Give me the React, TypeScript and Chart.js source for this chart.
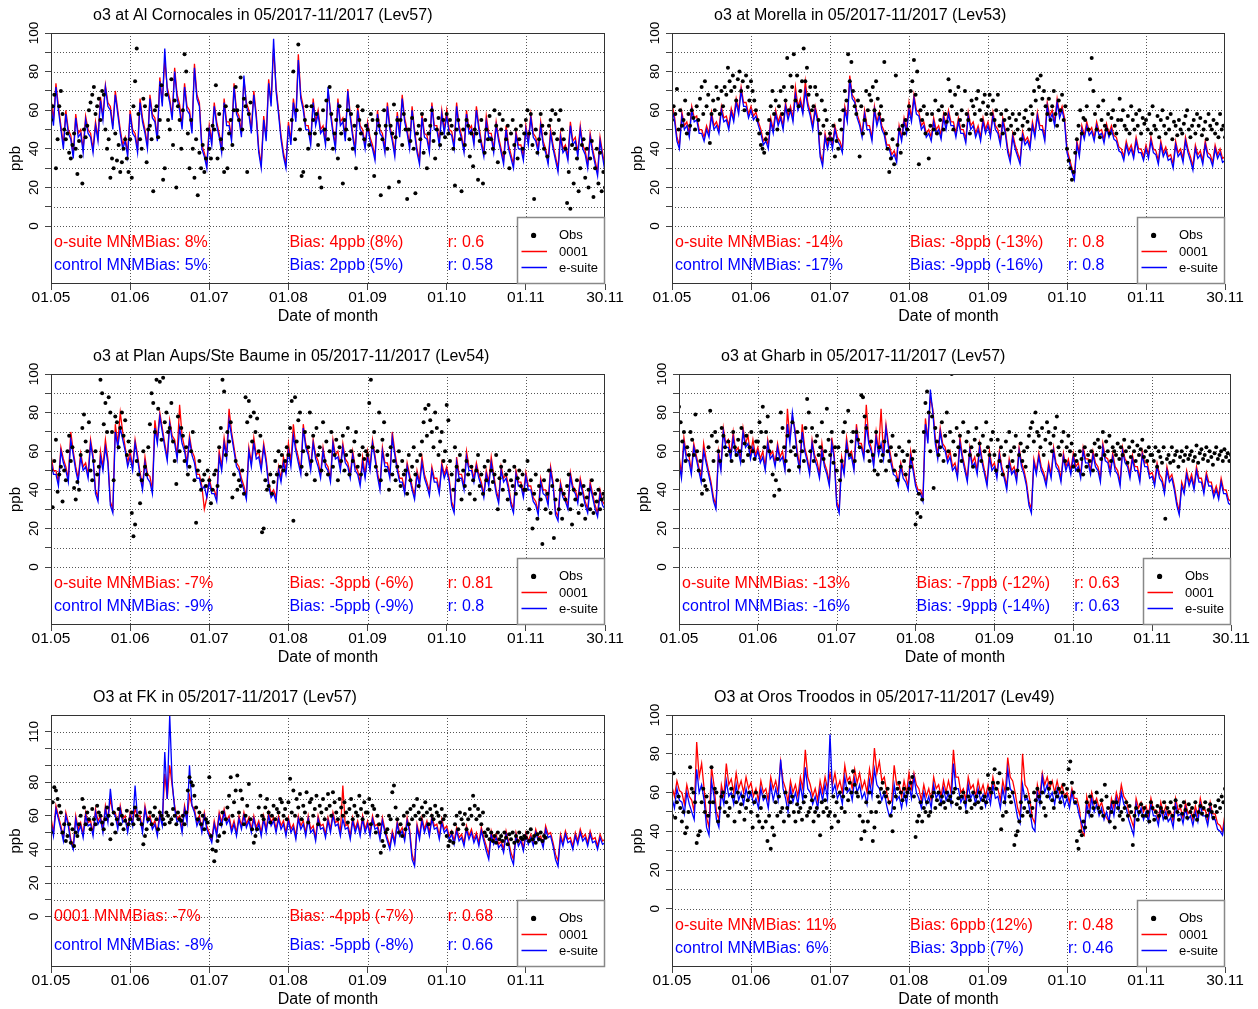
import React, { useEffect, useRef } from "react";
import { Chart, registerables } from "chart.js";
Chart.register(...registerables);

const FONT = "'Liberation Sans', Arial, Helvetica, sans-serif";
Chart.defaults.font.family = FONT;

const monthLabels = ["01.05", "01.06", "01.07", "01.08", "01.09", "01.10", "01.11", "30.11"];
const LINE_PER_MONTH = 32;
const OBS_PER_MONTH = 48;

// ---------- Al Cornocales ----------
const cornocalesOsuite = [
  66,55,74,62,52,42,60,50,47,37,58,48,50,40,57,50,48,40,54,46,67,57,73,64,62,52,70,60,50,42,46,38,
  60,50,48,40,66,56,50,42,68,58,56,46,77,64,86,72,66,57,82,68,63,52,74,62,60,50,84,68,64,42,38,32,
  52,44,64,54,48,40,66,54,54,46,74,60,57,48,76,64,60,50,70,58,40,32,57,46,76,64,92,72,60,47,38,32,
  54,44,66,56,89,68,62,52,52,44,66,54,60,50,52,44,70,60,50,42,66,54,56,46,71,58,48,40,62,52,50,42,
  54,46,42,36,60,50,48,40,64,52,46,38,59,48,68,56,50,42,62,50,40,34,58,48,47,40,64,52,52,44,60,50,
  60,50,49,42,64,52,47,40,60,50,52,44,62,52,44,38,57,48,48,40,54,46,40,34,52,42,37,32,49,42,42,36,
  52,44,58,48,46,40,54,44,40,34,50,42,36,30,48,40,42,36,54,44,46,38,52,42,39,32,48,40,34,28,46,38,30];
const cornocalesEsuite = [
  62,52,72,60,50,40,58,48,45,35,56,46,48,38,55,48,46,38,52,44,65,55,72,62,60,50,68,58,48,40,44,36,
  58,48,46,38,64,54,48,40,66,56,54,44,75,62,92,70,64,55,80,66,60,50,72,60,58,48,82,66,62,40,36,30,
  50,42,62,52,46,38,64,52,52,44,72,58,55,46,78,62,58,48,68,56,38,30,55,44,74,62,97,70,58,45,36,30,
  52,42,64,54,86,66,60,50,50,42,64,52,58,48,50,42,72,58,48,40,64,52,54,44,70,56,46,38,60,50,48,40,
  52,44,40,34,58,48,46,38,62,50,44,36,57,46,66,54,48,40,60,48,38,32,56,46,45,38,62,50,50,42,58,48,
  57,48,47,40,62,50,45,38,58,48,50,42,60,50,42,36,54,46,46,38,52,44,38,32,50,40,35,30,47,40,40,34,
  50,42,56,46,44,38,52,42,38,32,48,40,34,28,46,38,40,34,52,42,44,36,50,40,37,30,46,38,32,26,44,36,28];
const cornocalesObs = [
  55,62,68,30,45,62,70,58,50,45,48,38,35,42,48,40,27,44,36,22,50,46,52,60,64,68,72,58,62,66,55,70,68,50,40,45,25,35,30,48,34,42,28,33,40,45,35,28,
  45,25,62,75,92,58,45,40,66,62,33,50,52,45,18,60,62,46,55,73,24,30,68,55,50,76,42,65,20,62,55,40,60,89,80,48,30,55,40,25,45,16,38,30,42,28,35,50,
  40,35,52,50,73,35,58,45,40,28,62,30,48,55,42,60,72,60,55,77,50,66,62,28,58,64,null,null,null,null,null,null,null,null,null,null,null,null,null,null,null,null,null,null,null,null,null,null,
  null,null,55,80,45,60,94,50,26,28,55,62,40,48,62,55,48,58,42,25,20,60,50,65,45,72,58,40,48,55,35,62,48,22,55,50,60,45,58,40,52,30,62,55,48,60,45,52,
  50,42,58,55,26,48,55,52,16,45,60,52,40,20,52,48,63,46,55,23,55,42,58,50,14,50,44,56,40,17,48,52,45,58,38,55,30,48,52,60,44,35,50,56,42,48,55,46,
  58,48,55,52,40,21,50,55,45,18,50,42,55,52,36,48,31,50,48,24,44,55,22,38,50,45,57,45,40,60,52,33,58,50,55,38,45,52,30,48,55,42,50,35,45,52,40,48,
  55,60,48,58,42,14,50,38,45,58,52,40,48,36,52,55,60,48,58,45,55,60,50,45,40,12,28,9,42,22,40,35,18,30,42,45,25,40,20,35,44,15,30,40,22,38,18,28,20];

// ---------- Morella ----------
const morellaOsuite = [
  63,57,46,42,59,52,54,48,62,56,57,50,50,46,52,48,59,52,54,50,62,56,57,52,61,56,66,60,72,64,64,58,
  62,57,59,54,50,44,46,42,56,50,60,54,58,52,64,57,62,56,72,62,66,60,75,64,59,52,62,56,38,33,48,42,
  48,42,52,46,44,40,62,56,78,68,66,58,54,48,60,52,52,46,62,54,59,52,49,42,42,37,39,35,52,46,56,50,
  64,56,68,60,59,52,54,48,50,46,56,50,52,47,58,52,60,54,54,48,56,50,50,45,59,52,54,48,52,46,56,50,
  54,48,59,52,50,44,56,50,40,35,48,42,38,34,49,44,46,42,54,48,59,52,52,46,64,57,60,54,66,58,62,56,
  40,35,30,26,44,38,52,47,54,49,51,46,54,49,50,45,53,48,52,47,46,41,40,36,44,39,42,37,46,40,40,36,
  42,37,46,40,39,34,44,38,41,36,37,32,44,38,40,35,46,40,36,31,42,37,39,34,44,38,37,33,42,37,40,35,36];
const morellaEsuite = [
  60,55,44,40,57,50,52,46,60,54,55,48,48,44,50,46,57,50,52,48,60,54,55,50,59,54,64,58,70,62,62,56,
  60,55,57,52,48,42,44,40,54,48,58,52,56,50,62,55,60,54,68,60,64,58,70,62,57,50,60,54,36,31,46,40,
  46,40,50,44,42,38,60,54,76,66,64,56,52,46,58,50,50,44,60,52,57,50,47,40,40,35,37,33,50,44,54,48,
  60,54,66,58,57,50,52,46,48,44,54,48,50,45,56,50,58,52,52,46,54,48,48,43,57,50,52,46,50,44,54,48,
  52,46,57,50,48,42,54,48,38,33,46,40,36,32,47,42,44,40,52,46,57,50,50,44,62,55,58,52,64,56,60,54,
  38,33,28,24,42,36,50,45,52,47,49,44,52,47,48,43,51,46,50,45,44,39,38,34,42,37,40,35,44,38,38,34,
  40,35,44,38,37,32,42,36,39,34,35,30,42,36,38,33,44,38,34,29,40,35,37,32,42,36,35,31,40,35,38,33,34];
const morellaObs = [
  55,62,58,71,50,60,52,55,65,48,58,52,60,56,50,62,55,66,72,58,75,62,68,43,58,65,60,72,66,58,70,62,72,68,82,75,70,78,72,65,76,80,70,75,60,78,72,65,
  75,70,65,60,55,48,42,40,38,45,48,55,62,70,58,65,50,62,70,58,72,65,87,60,78,72,89,65,78,62,70,75,92,75,82,68,72,60,62,72,68,55,48,65,52,60,55,45,
  48,45,52,36,44,40,55,50,60,70,65,89,75,85,70,62,58,65,36,62,48,55,70,60,68,65,72,60,75,66,58,62,55,85,48,40,28,35,45,32,78,42,50,38,52,48,55,50,
  62,70,75,86,68,80,32,60,55,62,48,58,35,52,58,50,65,48,60,55,62,50,58,54,76,70,62,50,68,58,72,55,60,52,70,58,55,48,65,62,58,66,70,60,55,64,68,58,
  62,68,58,65,55,60,68,52,58,48,55,60,50,56,52,58,48,55,50,58,45,52,56,60,54,50,62,58,70,65,76,72,78,66,70,62,58,66,55,62,70,58,52,65,60,68,55,62,
  40,34,30,24,28,38,45,52,60,48,56,55,62,50,76,87,70,58,50,62,46,55,65,52,50,58,48,56,60,52,48,55,66,55,60,52,50,57,48,62,55,50,58,52,60,48,56,53,
  55,50,58,48,62,52,50,57,46,55,60,52,48,56,50,58,45,54,52,47,55,50,48,53,57,60,50,46,52,55,48,58,52,56,47,50,54,45,58,52,50,55,48,53,46,58,50,52,46];

// ---------- Plan Aups / Ste Baume ----------
const planAupsOsuite = [
  58,50,50,44,62,56,52,46,70,60,52,46,59,52,54,48,66,58,40,36,60,52,66,56,34,30,74,64,80,70,62,54,
  60,52,66,58,49,42,57,48,47,40,76,66,80,72,64,57,76,68,66,58,84,68,62,54,68,60,57,48,48,42,30,36,
  46,40,40,36,60,52,67,58,82,70,62,54,52,46,42,37,62,54,67,58,60,52,64,56,44,38,40,36,52,46,57,50,
  64,54,74,62,57,50,74,64,60,52,66,58,55,48,62,54,52,46,66,58,60,52,64,56,54,48,60,52,50,44,57,48,
  60,52,66,58,49,42,62,54,54,48,70,60,52,46,46,40,54,48,42,37,50,44,57,48,44,39,52,46,46,40,54,48,
  52,46,34,30,57,48,48,42,60,52,52,46,54,48,44,38,50,44,57,48,40,35,52,46,48,42,34,30,50,44,44,38,
  49,42,42,36,34,29,46,40,40,34,52,44,29,26,44,38,36,32,49,42,40,35,46,40,34,30,44,38,32,28,40,34,32];
const planAupsEsuite = [
  55,48,48,42,60,54,50,44,66,58,50,44,57,50,52,46,64,56,38,34,57,50,62,54,32,28,70,62,72,66,60,52,
  57,50,64,56,47,40,54,46,44,38,72,64,78,70,62,55,74,66,64,56,72,64,60,52,66,58,54,46,46,40,42,36,
  44,38,38,34,57,50,64,56,76,68,60,52,50,44,40,35,60,52,64,56,57,50,62,54,42,36,38,34,50,44,54,48,
  60,52,68,60,54,48,72,62,58,50,64,56,52,46,60,52,50,44,64,56,57,50,62,54,52,46,58,50,48,42,54,46,
  57,50,64,56,47,40,60,52,52,46,67,58,50,44,44,38,52,46,40,35,48,42,54,46,42,37,50,44,44,38,52,46,
  50,44,32,28,54,46,46,40,57,50,50,44,52,46,42,36,48,42,54,46,38,33,50,44,46,40,32,28,48,42,42,36,
  47,40,40,34,32,27,44,38,37,32,50,42,27,24,42,36,34,30,47,40,38,33,44,38,32,28,42,36,30,26,38,32,30];
const planAupsObs = [
  50,31,55,66,39,48,52,34,50,45,60,68,55,62,41,35,44,40,58,72,79,65,60,75,50,45,55,60,48,52,97,90,74,85,70,88,80,70,45,78,75,62,72,80,68,76,58,65,
  60,28,16,22,55,48,33,45,60,52,48,62,74,90,85,70,97,82,96,66,98,75,80,70,72,85,65,55,43,78,60,72,68,55,62,48,52,60,70,45,23,50,55,40,45,48,42,50,
  45,33,40,48,50,42,62,72,97,91,58,70,65,75,36,48,55,40,45,42,50,38,88,75,86,78,65,80,70,77,60,68,18,20,45,40,42,48,38,44,55,48,60,52,58,50,55,62,
  58,72,86,24,88,65,76,80,52,60,70,48,62,80,55,68,45,72,58,62,50,75,55,65,48,60,70,52,58,66,45,62,55,68,50,58,72,48,60,55,65,70,52,58,48,62,56,60,
  58,85,97,62,70,52,60,80,45,66,75,50,58,40,62,48,55,45,52,60,42,55,48,50,38,58,45,52,62,48,55,42,58,65,75,82,68,84,76,70,62,80,72,58,65,70,55,60,
  84,76,55,48,40,62,52,45,58,35,50,42,55,48,38,52,45,35,50,58,42,48,38,52,45,55,40,50,44,48,58,30,46,52,40,55,48,35,50,45,42,52,38,46,50,42,48,40,
  40,55,30,45,20,38,48,25,42,35,12,45,30,38,50,28,42,15,35,45,30,40,25,38,35,42,48,30,22,40,35,45,28,38,32,42,25,36,40,30,45,28,38,34,40,30,35,38,36];

// ---------- Gharb ----------
const gharbOsuite = [
  58,48,67,58,58,50,64,58,52,46,64,56,50,44,36,32,60,52,72,64,66,58,70,60,62,56,72,64,68,58,66,58,
  62,56,60,52,66,58,60,54,64,57,60,52,82,66,78,72,60,52,74,62,57,50,66,58,55,48,64,54,50,44,67,58,
  34,30,57,50,67,58,60,52,74,64,64,58,84,66,62,54,70,60,82,58,74,64,57,50,50,44,54,48,47,42,60,52,
  44,40,40,36,77,66,88,82,67,58,72,64,62,56,60,52,54,48,67,58,52,46,62,54,57,50,64,56,50,44,60,52,
  54,48,60,52,48,42,56,50,52,46,62,54,50,44,34,30,56,50,59,52,49,44,54,48,62,54,52,46,59,52,56,50,
  59,52,54,48,62,56,56,50,60,54,52,46,64,57,56,50,59,52,50,44,62,56,54,48,58,52,52,46,60,54,54,48,
  49,44,54,48,46,40,52,46,48,42,34,29,44,40,50,44,48,42,52,46,46,40,49,44,44,38,42,37,46,40,40,35,34];
const gharbEsuite = [
  54,46,64,56,55,48,62,56,50,44,60,54,48,42,34,30,58,50,70,62,62,56,67,58,60,54,70,62,64,56,62,56,
  60,54,57,50,64,56,58,52,62,55,57,50,74,64,80,70,57,50,70,60,55,48,64,56,52,46,60,52,48,42,64,56,
  32,28,54,48,64,56,57,50,70,62,62,56,74,64,60,52,67,58,64,56,72,62,54,48,47,42,52,46,44,40,57,50,
  42,38,38,34,74,64,92,80,64,56,70,62,60,54,57,50,52,46,64,56,50,44,60,52,54,48,62,54,48,42,57,50,
  52,46,58,50,46,40,54,48,50,44,60,52,48,42,32,28,54,48,57,50,47,42,52,46,60,52,50,44,57,50,54,48,
  57,50,52,46,60,54,54,48,58,52,50,44,62,55,54,48,57,50,48,42,60,54,52,46,56,50,50,44,58,52,52,46,
  47,42,52,46,44,38,50,44,46,40,32,27,42,38,48,42,46,40,50,44,44,38,47,42,42,36,40,35,44,38,38,33,32];
const gharbObs = [
  83,75,65,70,55,62,58,70,66,58,79,60,50,55,38,45,42,40,62,81,68,55,70,65,60,55,72,68,62,58,65,60,55,70,62,58,66,60,72,55,64,68,58,62,70,60,56,65,
  65,75,70,83,62,70,78,60,65,48,37,45,56,40,80,72,62,55,68,50,60,75,62,58,70,52,65,60,55,72,87,80,60,72,55,65,68,58,62,75,56,60,82,66,58,70,54,62,
  50,62,45,55,70,75,60,81,58,65,70,55,70,66,62,89,88,78,72,60,55,65,58,50,70,48,62,55,58,65,50,60,55,62,68,50,58,45,62,52,60,55,48,58,65,52,56,60,
  22,28,38,26,35,70,85,91,80,60,78,41,72,65,58,62,75,55,68,80,60,70,100,65,58,72,62,68,55,75,60,65,70,58,62,52,66,72,58,64,55,68,60,75,62,58,66,70,
  58,50,66,55,62,48,58,65,52,70,60,55,62,68,50,58,64,55,60,52,62,68,72,75,65,80,70,68,62,72,58,66,75,70,64,60,68,72,78,62,58,65,70,55,62,68,60,64,
  52,58,55,50,60,56,48,62,52,58,55,60,50,64,58,66,62,56,70,58,65,60,68,55,62,60,58,64,56,62,58,66,60,54,62,57,65,60,55,63,58,61,66,57,60,55,62,58,
  58,55,62,52,60,57,54,62,25,56,58,54,62,55,58,60,52,57,60,55,58,62,56,58,60,55,57,63,54,59,61,56,58,62,55,60,57,53,59,62,56,58,60,55,61,57,59,55,58];

// ---------- FK ----------
const fk0001 = [
  59,50,66,60,54,47,62,56,46,42,60,52,56,49,62,56,57,50,64,57,60,52,66,58,70,62,62,54,66,58,60,52,
  62,56,64,60,60,52,66,58,60,54,57,50,62,56,85,70,90,78,66,58,60,52,66,58,72,66,64,56,60,52,62,54,
  50,46,57,50,62,56,64,57,60,52,57,50,60,54,62,55,59,52,60,53,57,50,60,52,62,56,59,52,60,54,57,50,
  59,52,55,48,60,54,57,50,60,52,54,47,60,54,55,49,59,52,62,56,57,50,78,54,55,48,59,52,57,50,60,52,
  57,50,60,54,55,48,59,52,47,42,51,45,57,50,53,47,59,52,37,32,55,48,59,52,57,50,60,54,55,48,58,52,
  54,48,51,45,53,47,49,44,54,48,52,46,50,44,53,47,42,37,51,45,49,43,45,40,51,45,38,34,50,44,47,41,
  50,45,49,44,52,47,48,43,54,49,50,44,37,33,49,44,51,46,47,42,50,45,52,47,49,44,51,46,47,42,49,45,46];
const fkEsuite = [
  56,48,64,58,52,45,60,54,44,40,58,50,54,47,60,54,55,48,62,55,58,50,64,56,76,62,60,52,64,56,58,50,
  60,54,78,58,58,50,64,56,58,52,55,48,60,54,98,70,120,80,64,56,58,50,64,56,90,66,62,54,58,50,60,52,
  48,44,55,48,60,54,62,55,58,50,55,48,58,52,60,53,57,50,58,51,55,48,58,50,60,54,57,50,58,52,55,48,
  57,50,53,46,58,52,55,48,58,50,52,45,58,52,53,47,57,50,60,54,55,48,58,52,53,46,57,50,55,48,58,50,
  55,48,58,52,53,46,57,50,45,40,49,43,55,48,51,45,57,50,34,30,53,46,57,50,55,48,58,52,53,46,56,50,
  52,46,49,43,51,45,47,42,52,46,50,44,48,42,51,45,39,34,49,43,47,41,43,38,49,43,35,31,48,42,45,39,
  48,43,47,42,50,45,46,41,52,47,48,42,34,30,47,42,49,44,45,40,48,43,50,45,47,42,49,44,45,40,47,43,44];
const fkObs = [
  50,68,77,75,70,66,62,50,55,45,48,55,44,52,42,50,48,55,60,70,65,55,62,58,52,64,58,55,66,62,60,56,52,58,65,60,46,55,62,50,58,64,55,60,52,57,63,55,
  58,62,55,65,60,58,62,55,43,48,52,58,62,55,60,65,58,52,62,60,58,55,62,60,56,58,64,60,55,62,58,57,60,55,62,75,83,80,78,72,65,58,62,55,60,52,58,56,
  83,48,40,33,39,45,48,55,62,50,58,65,72,83,60,68,75,84,62,75,70,55,60,66,79,58,52,44,48,52,65,72,60,58,65,70,62,56,60,66,58,64,62,70,68,60,64,58,
  68,82,62,75,60,70,65,73,58,66,62,74,56,68,70,60,64,72,55,66,62,70,58,64,73,66,60,74,68,62,58,70,65,60,68,62,56,64,70,58,66,62,60,72,64,58,68,62,
  62,70,55,66,64,50,60,55,38,45,42,50,52,60,58,74,78,65,58,50,55,48,60,52,62,55,64,58,66,60,70,62,58,65,60,68,62,55,64,60,58,66,62,60,56,64,58,60,
  48,42,45,50,44,55,60,52,62,58,55,61,52,58,64,60,72,66,58,64,60,55,62,50,48,52,46,50,45,48,44,50,46,48,45,50,47,43,49,46,50,44,48,45,50,47,46,48,
  47,50,45,52,46,48,44,49,46,50,45,48,47,null,null,null,null,null,null,null,null,null,null,null,null,null,null,null,null,null,null,null,null,null,null,null,null,null,null,null,null,null,null,null,null,null,null,null,null];

// ---------- Oros Troodos ----------
const orosOsuite = [
  63,58,66,61,60,54,64,58,56,50,86,68,75,62,47,42,73,64,50,46,64,58,75,64,67,60,70,62,66,60,68,62,
  65,58,62,56,66,60,62,56,68,62,66,60,76,66,62,55,66,60,64,58,68,62,82,68,64,58,62,56,66,60,68,62,
  70,64,70,62,66,60,74,66,68,62,72,65,70,62,66,60,72,64,83,70,76,66,68,60,54,56,74,64,64,58,66,60,
  70,62,70,64,62,56,64,58,62,56,68,62,64,58,66,60,66,60,82,68,68,60,62,56,68,62,64,58,66,60,64,58,
  64,58,68,62,62,56,66,60,78,68,66,60,52,48,80,64,62,56,47,44,64,58,70,64,68,62,66,60,66,60,64,58,
  60,55,62,57,57,52,40,38,58,52,60,54,57,52,55,50,47,45,57,52,60,55,64,58,56,50,46,42,57,52,55,50,
  53,48,57,51,51,46,55,49,53,48,50,45,57,51,52,47,55,49,51,46,53,48,57,51,51,46,55,49,49,44,43,40,49];
const orosEsuite = [
  57,52,62,56,55,49,60,54,50,46,72,60,64,56,42,38,66,58,46,42,60,54,66,58,60,54,64,56,60,54,62,56,
  60,54,57,52,62,56,58,52,64,56,62,56,77,62,57,50,62,55,60,54,64,56,73,62,60,54,58,52,62,56,64,57,
  90,60,64,57,60,54,68,60,62,56,67,60,64,57,60,54,66,58,72,64,62,56,60,53,48,50,64,56,58,52,60,54,
  64,57,68,60,57,52,60,54,58,52,64,57,60,54,62,56,60,54,75,62,62,55,58,52,64,57,60,54,62,56,59,53,
  60,54,64,57,58,52,62,55,72,62,60,54,47,44,64,56,57,50,42,40,60,54,68,60,64,57,60,54,62,56,59,53,
  57,52,60,54,54,48,44,40,54,48,57,50,54,48,52,46,50,45,54,48,57,51,60,54,52,46,42,38,54,48,52,46,
  50,45,54,48,48,43,52,46,50,45,47,42,54,48,49,44,52,46,48,43,50,45,54,48,48,43,52,46,46,41,40,38,46];
const orosObs = [
  48,70,47,55,58,52,45,50,39,42,50,73,62,60,55,34,38,40,55,62,50,58,48,55,73,55,62,60,45,52,58,60,50,55,48,52,62,58,45,55,60,50,54,58,46,52,56,60,
  50,42,55,60,48,45,52,42,58,45,35,48,31,42,38,55,48,58,50,52,45,60,52,48,55,58,50,45,54,50,52,46,55,58,48,50,52,56,45,50,52,48,38,55,50,56,52,48,
  50,42,58,48,55,45,60,52,58,50,62,56,65,60,71,64,60,58,48,36,45,40,55,45,60,50,35,42,50,58,55,62,65,60,58,62,55,48,40,52,58,62,65,60,56,62,58,60,
  62,65,68,58,37,45,48,55,45,52,50,55,48,50,58,60,52,56,60,54,58,55,52,60,56,58,55,60,62,54,57,52,58,60,55,50,58,56,52,60,54,58,55,60,52,56,58,55,
  69,62,60,65,72,62,65,70,41,48,55,50,62,58,55,60,33,38,40,45,55,48,52,58,50,55,48,52,60,56,62,58,55,60,52,48,58,62,65,56,52,60,58,62,55,60,64,58,
  62,72,76,65,60,55,35,31,40,38,45,42,55,50,58,48,52,55,60,52,50,56,48,64,58,52,45,50,55,42,55,52,48,50,46,52,55,48,53,50,33,48,52,46,50,54,48,52,
  48,50,45,55,52,46,50,53,48,52,50,55,47,52,50,55,48,52,56,50,46,53,49,55,51,47,54,50,52,48,55,46,50,53,49,52,55,48,51,54,50,47,53,50,56,52,58,55,62];

const stdYLabels = [0, 20, 40, 60, 80, 100];
const fkYLabels = [0, 20, 40, 60, 80, 110];
const fullXTicks = [0, 1, 2, 3, 4, 5, 6, 7];
const fkXTicks = [0, 1, 2, 3, 4, 5, 6];

type PanelCfg = {
  cx: number; cy: number; w: number; h: number;
  L: number; rp: number; T: number; B: number;
  yMax: number; gridMax: number; yLabels: number[]; xTicks: number[];
  textY: [number, number];
  title: string;
  texts: [string, string, string, string, string, string];
  red: (number | null)[]; blue: (number | null)[]; obs: (number | null)[];
};

const panels: PanelCfg[] = [
  { cx: 0, cy: 0, w: 629, h: 340, L: 51, rp: 24, T: 33, B: 284, yMax: 100, gridMax: 100,
    yLabels: stdYLabels, xTicks: fullXTicks, textY: [-8.5, -20.7],
    title: "o3 at Al Cornocales in 05/2017-11/2017 (Lev57)",
    texts: ["o-suite MNMBias: 8%", "control MNMBias: 5%", "Bias: 4ppb (8%)", "Bias: 2ppb (5%)", "r: 0.6", "r: 0.58"],
    red: cornocalesOsuite, blue: cornocalesEsuite, obs: cornocalesObs },
  { cx: 629, cy: 0, w: 629, h: 340, L: 43, rp: 33, T: 33, B: 284, yMax: 100, gridMax: 100,
    yLabels: stdYLabels, xTicks: fullXTicks, textY: [-8.5, -20.7],
    title: "o3 at Morella in 05/2017-11/2017 (Lev53)",
    texts: ["o-suite MNMBias: -14%", "control MNMBias: -17%", "Bias: -8ppb (-13%)", "Bias: -9ppb (-16%)", "r: 0.8", "r: 0.8"],
    red: morellaOsuite, blue: morellaEsuite, obs: morellaObs },
  { cx: 0, cy: 340, w: 629, h: 340, L: 51, rp: 24, T: 34, B: 285, yMax: 100, gridMax: 100,
    yLabels: stdYLabels, xTicks: fullXTicks, textY: [-8.5, -20.7],
    title: "o3 at Plan Aups/Ste Baume in 05/2017-11/2017 (Lev54)",
    texts: ["o-suite MNMBias: -7%", "control MNMBias: -9%", "Bias: -3ppb (-6%)", "Bias: -5ppb (-9%)", "r: 0.81", "r: 0.8"],
    red: planAupsOsuite, blue: planAupsEsuite, obs: planAupsObs },
  { cx: 629, cy: 340, w: 629, h: 340, L: 50, rp: 27, T: 34, B: 285, yMax: 100, gridMax: 100,
    yLabels: stdYLabels, xTicks: fullXTicks, textY: [-8.5, -20.7],
    title: "o3 at Gharb in 05/2017-11/2017 (Lev57)",
    texts: ["o-suite MNMBias: -13%", "control MNMBias: -16%", "Bias: -7ppb (-12%)", "Bias: -9ppb (-14%)", "r: 0.63", "r: 0.63"],
    red: gharbOsuite, blue: gharbEsuite, obs: gharbObs },
  { cx: 0, cy: 680, w: 629, h: 329, L: 51, rp: 24, T: 35, B: 287, yMax: 120, gridMax: 110,
    yLabels: fkYLabels, xTicks: fkXTicks, textY: [0, -17],
    title: "O3 at FK in 05/2017-11/2017 (Lev57)",
    texts: ["0001 MNMBias: -7%", "control MNMBias: -8%", "Bias: -4ppb (-7%)", "Bias: -5ppb (-8%)", "r: 0.68", "r: 0.66"],
    red: fk0001, blue: fkEsuite, obs: fkObs },
  { cx: 629, cy: 680, w: 629, h: 329, L: 43, rp: 33, T: 35, B: 287, yMax: 100, gridMax: 100,
    yLabels: stdYLabels, xTicks: fullXTicks, textY: [-8.5, -20.7],
    title: "O3 at Oros Troodos in 05/2017-11/2017 (Lev49)",
    texts: ["o-suite MNMBias: 11%", "control MNMBias: 6%", "Bias: 6ppb (12%)", "Bias: 3ppb (7%)", "r: 0.48", "r: 0.46"],
    red: orosOsuite, blue: orosEsuite, obs: orosObs },
];

function toPts(arr: (number | null)[], perMonth: number) {
  return arr.map((v, i) => ({ x: i / perMonth, y: v }));
}

function makePlugin(cfg: PanelCfg) {
  return {
    id: "panelDecor",
    beforeDatasetsDraw(chart: any) {
      const { ctx, chartArea: a, scales } = chart;
      const x = scales.x, y = scales.y;
      ctx.save();
      ctx.strokeStyle = "#555";
      ctx.lineWidth = 1;
      ctx.setLineDash([1, 2]);
      for (let v = 0; v <= cfg.gridMax; v += 10) {
        const py = Math.round(y.getPixelForValue(v)) + 0.5;
        if (py <= a.top + 1) continue;
        ctx.beginPath(); ctx.moveTo(a.left, py); ctx.lineTo(a.right, py); ctx.stroke();
      }
      for (let m = 1; m < 7; m++) {
        const px = Math.round(x.getPixelForValue(m)) + 0.5;
        ctx.beginPath(); ctx.moveTo(px, a.top); ctx.lineTo(px, a.bottom); ctx.stroke();
      }
      ctx.restore();
    },
    afterDraw(chart: any) {
      const { ctx, chartArea: a, scales } = chart;
      const x = scales.x, y = scales.y;
      ctx.save();
      ctx.strokeStyle = "#333";
      ctx.lineWidth = 1;
      ctx.strokeRect(Math.round(a.left) + 0.5, Math.round(a.top) + 0.5, Math.round(a.right - a.left) - 1, Math.round(a.bottom - a.top) - 1);
      ctx.fillStyle = "#000";
      ctx.font = `13.5px ${FONT}`;
      ctx.textAlign = "center";
      ctx.textBaseline = "middle";
      for (const v of cfg.yLabels) {
        ctx.save();
        ctx.translate(a.left - 17, y.getPixelForValue(v));
        ctx.rotate(-Math.PI / 2);
        ctx.fillText(String(v), 0, 0);
        ctx.restore();
      }
      ctx.font = `16px ${FONT}`;
      ctx.textAlign = "left";
      ctx.fillStyle = "#000";
      ctx.fillText(cfg.title, a.left + 42, a.top - 17);
      const y1 = y.getPixelForValue(cfg.textY[0]);
      const y2 = y.getPixelForValue(cfg.textY[1]);
      const cols = [x.getPixelForValue(0) + 3, x.getPixelForValue(3) + 1, x.getPixelForValue(5) + 1];
      ctx.fillStyle = "#FF0000";
      ctx.fillText(cfg.texts[0], cols[0], y1);
      ctx.fillText(cfg.texts[2], cols[1], y1);
      ctx.fillText(cfg.texts[4], cols[2], y1);
      ctx.fillStyle = "#0000FF";
      ctx.fillText(cfg.texts[1], cols[0], y2);
      ctx.fillText(cfg.texts[3], cols[1], y2);
      ctx.fillText(cfg.texts[5], cols[2], y2);
      const bw = 88, bh = 67;
      const L = Math.round(a.right) - bw, T = Math.round(a.bottom) - bh;
      ctx.fillStyle = "#fff";
      ctx.fillRect(L, T, bw, bh);
      ctx.strokeStyle = "#888";
      ctx.lineWidth = 1.5;
      ctx.strokeRect(L + 0.5, T + 0.5, bw - 1, bh - 1);
      ctx.fillStyle = "#000";
      ctx.beginPath(); ctx.arc(L + 16.6, T + 18.4, 2.6, 0, Math.PI * 2); ctx.fill();
      ctx.lineWidth = 1.5;
      ctx.strokeStyle = "#FF0000";
      ctx.beginPath(); ctx.moveTo(L + 4.5, T + 34.5); ctx.lineTo(L + 30, T + 34.5); ctx.stroke();
      ctx.strokeStyle = "#0000FF";
      ctx.beginPath(); ctx.moveTo(L + 4.5, T + 50.5); ctx.lineTo(L + 30, T + 50.5); ctx.stroke();
      ctx.font = `13px ${FONT}`;
      ctx.fillStyle = "#000";
      ctx.textAlign = "left";
      ctx.fillText("Obs", L + 42, T + 18.6);
      ctx.fillText("0001", L + 42, T + 35);
      ctx.fillText("e-suite", L + 42, T + 51.2);
      ctx.restore();
    },
  };
}

function Panel({ cfg }: { cfg: PanelCfg }) {
  const ref = useRef<HTMLCanvasElement | null>(null);
  useEffect(() => {
    if (!ref.current) return;
    const gridVals: number[] = [];
    for (let v = 0; v <= cfg.gridMax; v += 10) gridVals.push(v);
    const axisH = cfg.h - cfg.B;
    const chart = new Chart(ref.current, {
      type: "line",
      data: {
        datasets: [
          { label: "Obs", data: toPts(cfg.obs, OBS_PER_MONTH) as any, showLine: false, pointRadius: 2,
            pointBackgroundColor: "#000", pointBorderColor: "#000", pointBorderWidth: 0, order: 0 },
          { label: "e-suite", data: toPts(cfg.blue, LINE_PER_MONTH) as any, borderColor: "#0000FF", borderWidth: 1.3,
            pointRadius: 0, tension: 0, order: 1 },
          { label: "0001", data: toPts(cfg.red, LINE_PER_MONTH) as any, borderColor: "#FF0000", borderWidth: 1.3,
            pointRadius: 0, tension: 0, order: 2 },
        ],
      },
      options: {
        responsive: false,
        animation: false,
        events: [],
        layout: { padding: { left: 0, right: cfg.rp, top: cfg.T, bottom: 0 } },
        plugins: { legend: { display: false }, tooltip: { enabled: false }, title: { display: false } },
        scales: {
          x: {
            type: "linear", min: 0, max: 7,
            afterBuildTicks: (s: any) => { s.ticks = cfg.xTicks.map((v) => ({ value: v })); },
            afterFit: (s: any) => { s.height = axisH; },
            ticks: {
              callback: (v: any) => monthLabels[Math.round(Number(v))],
              font: { family: FONT, size: 15.5, lineHeight: 1 }, color: "#000", padding: 0,
              maxRotation: 0, minRotation: 0, autoSkip: false,
            },
            grid: { drawOnChartArea: false, drawTicks: true, tickLength: 6, color: "#444", lineWidth: 1 },
            border: { display: false },
            title: { display: true, text: "Date of month", font: { family: FONT, size: 16 }, color: "#000",
              padding: { top: 0, bottom: Math.max(0, axisH - 42.6) } },
          },
          y: {
            type: "linear", min: -30, max: cfg.yMax,
            afterBuildTicks: (s: any) => { s.ticks = gridVals.map((v) => ({ value: v })); },
            afterFit: (s: any) => { s.width = cfg.L; },
            ticks: { display: false },
            grid: { drawOnChartArea: false, drawTicks: true, tickLength: 6, color: "#444", lineWidth: 1 },
            border: { display: false },
            title: { display: true, text: "ppb", font: { family: FONT, size: 15 }, color: "#000",
              padding: { top: Math.max(0, cfg.L - 44), bottom: 0 } },
          },
        },
      },
      plugins: [makePlugin(cfg)],
    } as any);
    return () => chart.destroy();
  }, [cfg]);
  return (
    <canvas
      ref={ref}
      width={cfg.w}
      height={cfg.h}
      style={{ position: "absolute", left: cfg.cx, top: cfg.cy, width: cfg.w, height: cfg.h }}
    />
  );
}

export default function App() {
  return (
    <div style={{ position: "absolute", left: 0, top: 0, width: 1258, height: 1009, background: "#fff", overflow: "hidden" }}>
      {panels.map((p, i) => (
        <Panel key={i} cfg={p} />
      ))}
    </div>
  );
}
